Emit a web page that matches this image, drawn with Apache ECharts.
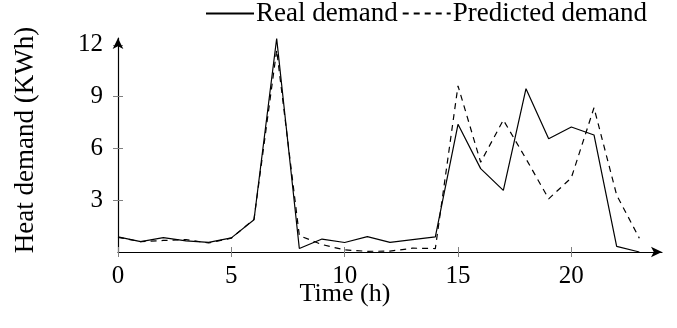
<!DOCTYPE html>
<html>
<head>
<meta charset="utf-8">
<script src="https://cdn.jsdelivr.net/npm/echarts@6/dist/echarts.min.js"></script>
<style>
  html, body { margin: 0; padding: 0; background: #fff; }
  #chart { width: 677px; height: 328px; }
</style>
</head>
<body>
<div id="chart"></div>
<script>
const hours = [0, 1, 2, 3, 4, 5, 6, 7, 8, 9, 10, 11, 12, 13, 14, 15, 16, 17, 18, 19, 20, 21, 22, 23]
const realDemand = [0.88, 0.6, 0.83, 0.64, 0.56, 0.82, 1.87, 12.37, 0.2, 0.75, 0.55, 0.89, 0.56, 0.72, 0.88, 7.4, 4.83, 3.57, 9.46, 6.56, 7.24, 6.78, 0.33, 0]
const predictedDemand = [0.85, 0.6, 0.67, 0.72, 0.52, 0.8, 1.9, 11.7, 0.95, 0.43, 0.12, 0.04, 0.05, 0.22, 0.2, 9.63, 5.2, 7.65, 5.4, 3.08, 4.3, 8.36, 3.3, 0.8]
const xTicks = [0, 5, 10, 15, 20]
const yTicks = [3, 6, 9, 12]

const FONT = 'Liberation Serif'
const TICK_COLOR = '#808080'

const chart = echarts.init(document.getElementById('chart'), null, { renderer: 'canvas' })

const pairs = values => hours.map((h, i) => [h, values[i]])

chart.setOption({
  animation: false,
  textStyle: { fontFamily: FONT },
  grid: { left: 118, right: 15, top: 38, bottom: 76 },
  legend: {
    left: 205,
    top: 0,
    padding: 0,
    itemGap: 4,
    itemWidth: 48,
    itemHeight: 14,
    itemStyle: { opacity: 0 },
    textStyle: { fontFamily: FONT, fontSize: 27, color: '#000', padding: [0, 0, 0, -3] },
    data: ['Real demand', 'Predicted demand'],
  },
  xAxis: [
    {
      type: 'value',
      min: 0,
      max: 24,
      axisLine: { show: true, symbol: ['none', 'arrow'], symbolSize: [8, 11], lineStyle: { color: '#000', width: 1.2 } },
      axisTick: { show: true, inside: false, length: 5, customValues: xTicks, lineStyle: { color: TICK_COLOR } },
      axisLabel: { customValues: xTicks, margin: 12, fontFamily: FONT, fontSize: 25, color: '#000' },
      splitLine: { show: false },
    },
    {
      type: 'value',
      min: 0,
      max: 24,
      position: 'bottom',
      axisLine: { show: false },
      axisTick: { show: true, inside: true, length: 5, customValues: xTicks, lineStyle: { color: TICK_COLOR } },
      axisLabel: { show: false },
      splitLine: { show: false },
    },
  ],
  yAxis: [
    {
      type: 'value',
      min: 0,
      max: 12.4,
      axisLine: { show: true, symbol: ['none', 'arrow'], symbolSize: [8, 11], lineStyle: { color: '#000', width: 1.2 } },
      axisTick: { show: true, inside: false, length: 5, customValues: yTicks, lineStyle: { color: TICK_COLOR } },
      axisLabel: { customValues: yTicks, margin: 15, fontFamily: FONT, fontSize: 25, color: '#000' },
      splitLine: { show: false },
    },
    {
      type: 'value',
      min: 0,
      max: 12.4,
      position: 'left',
      axisLine: { show: false },
      axisTick: { show: true, inside: true, length: 5, customValues: yTicks, lineStyle: { color: TICK_COLOR } },
      axisLabel: { show: false },
      splitLine: { show: false },
    },
  ],
  graphic: [
    {
      type: 'text',
      x: 345,
      y: 294,
      style: { text: 'Time (h)', fontFamily: FONT, fontSize: 26, fill: '#000', textAlign: 'center', textVerticalAlign: 'middle' },
    },
    {
      type: 'text',
      x: 26,
      y: 140,
      rotation: Math.PI / 2,
      style: { text: 'Heat demand (KWh)', fontFamily: FONT, fontSize: 27, fill: '#000', textAlign: 'center', textVerticalAlign: 'middle' },
    },
  ],
  series: [
    {
      name: 'Real demand',
      type: 'line',
      xAxisIndex: 0,
      yAxisIndex: 0,
      symbol: 'none',
      clip: false,
      lineStyle: { color: '#000', width: 1.2, type: 'solid' },
      itemStyle: { color: '#000' },
      data: pairs(realDemand),
    },
    {
      name: 'Predicted demand',
      type: 'line',
      xAxisIndex: 0,
      yAxisIndex: 0,
      symbol: 'none',
      clip: false,
      lineStyle: { color: '#000', width: 1.2, type: [6, 5] },
      itemStyle: { color: '#000' },
      data: pairs(predictedDemand),
    },
  ],
})
</script>
</body>
</html>
